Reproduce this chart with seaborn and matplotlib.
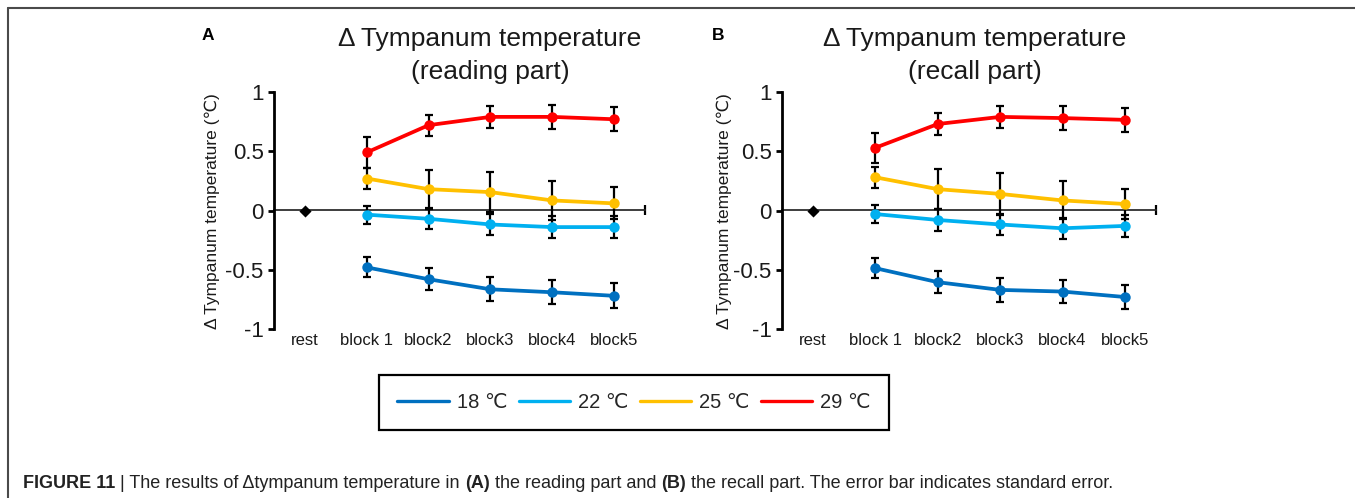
import numpy as np
import pandas as pd
import matplotlib
matplotlib.use("Agg")
import matplotlib.pyplot as plt
from matplotlib.lines import Line2D
import seaborn as sns

# ---------------- data ----------------
categories = ['rest', 'block 1', 'block2', 'block3', 'block4', 'block5']
temps = ['18 \u2103', '22 \u2103', '25 \u2103', '29 \u2103']
colors = ['#0070C0', '#00B0F0', '#FFC000', '#FF0000']
rest_value = [0.0]

# reading part (block 1..5)
read_18 = [-0.48, -0.58, -0.665, -0.69, -0.72]
read_22 = [-0.035, -0.07, -0.118, -0.14, -0.14]
read_25 = [0.27, 0.18, 0.155, 0.085, 0.06]
read_29 = [0.49, 0.72, 0.79, 0.79, 0.77]
read_18_se = [0.085, 0.095, 0.10, 0.10, 0.105]
read_22_se = [0.075, 0.09, 0.09, 0.09, 0.09]
read_25_se = [0.09, 0.165, 0.17, 0.165, 0.135]
read_29_se = [0.13, 0.09, 0.09, 0.10, 0.10]

# recall part (block 1..5)
recall_18 = [-0.487, -0.605, -0.67, -0.684, -0.73]
recall_22 = [-0.03, -0.08, -0.118, -0.15, -0.13]
recall_25 = [0.28, 0.18, 0.14, 0.085, 0.055]
recall_29 = [0.53, 0.73, 0.79, 0.78, 0.765]
recall_18_se = [0.085, 0.095, 0.10, 0.10, 0.105]
recall_22_se = [0.075, 0.09, 0.09, 0.09, 0.09]
recall_25_se = [0.09, 0.17, 0.175, 0.16, 0.13]
recall_29_se = [0.125, 0.09, 0.095, 0.10, 0.10]

panels = [
    dict(letter='A', title2='(reading part)',
         means=[read_18, read_22, read_25, read_29],
         ses=[read_18_se, read_22_se, read_25_se, read_29_se]),
    dict(letter='B', title2='(recall part)',
         means=[recall_18, recall_22, recall_25, recall_29],
         ses=[recall_18_se, recall_22_se, recall_25_se, recall_29_se]),
]

# ---------------- style ----------------
sns.set_theme(style='white')
plt.rcParams['font.family'] = ['Liberation Sans', 'DejaVu Sans']
plt.rcParams['axes.unicode_minus'] = False

W, H = 1355, 498
fig = plt.figure(figsize=(W / 100, H / 100), dpi=100)
fig.patch.set_facecolor('white')

def fx(px):
    return px / W

def fy(py):
    return 1 - py / H

axes_px = [(274, 645), (782, 1156)]
y_top, y_bot = 92, 329
title_cx = [490, 975]
letter_x = [208, 718]
ylabel_x = [212, 724]

block_pos = list(range(1, len(categories)))

for p, (x0, x1), tcx, lx, ylx in zip(panels, axes_px, title_cx, letter_x, ylabel_x):
    ax = fig.add_axes([fx(x0), fy(y_bot), fx(x1 - x0), (y_bot - y_top) / H])
    ax.set_facecolor('none')

    rows = []
    for t, m in zip(temps, p['means']):
        for pos, v in zip(block_pos, m):
            rows.append(dict(temp=t, pos=pos, val=v))
    df = pd.DataFrame(rows)

    # error bars (under the lines)
    for m, se in zip(p['means'], p['ses']):
        ax.errorbar(block_pos, m, yerr=se, fmt='none', ecolor='black',
                    elinewidth=1.6, capsize=3.2, capthick=1.6, zorder=1)

    sns.lineplot(data=df, x='pos', y='val', hue='temp', hue_order=temps,
                 palette=colors, marker='o', markersize=7.5, markeredgewidth=0,
                 linewidth=2.7, legend=False, sort=False, ax=ax, zorder=3)

    sns.scatterplot(x=[0], y=rest_value, marker='D', color='black', s=38,
                    linewidth=0, ax=ax, zorder=4)

    ax.set_xlim(-0.5, 5.5)
    ax.set_ylim(-1, 1)
    ax.set_xlabel('')
    ax.set_ylabel('')

    # spines
    for s in ['top', 'right', 'bottom']:
        ax.spines[s].set_visible(False)
    ax.spines['left'].set_linewidth(2.0)
    ax.spines['left'].set_color('black')

    ax.set_yticks([-1, -0.5, 0, 0.5, 1])
    ax.set_yticklabels(['-1', '-0.5', '0', '0.5', '1'])
    ax.set_yticks([-1, 1], minor=True)
    ax.tick_params(axis='y', which='major', direction='out', length=4.5,
                   width=2.0, color='black', labelsize=16, pad=3, left=True,
                   labelcolor='#1a1a1a')
    ax.tick_params(axis='y', which='minor', direction='inout', length=8.5,
                   width=2.0, color='black', left=True)

    ax.set_xticks(range(len(categories)))
    ax.set_xticklabels(categories)
    ax.tick_params(axis='x', which='both', length=0, labelsize=12, pad=3,
                   colors='#1a1a1a')

    # x axis line through zero
    sec = ax.secondary_xaxis(0.5)
    sec.spines['bottom'].set_linewidth(1.6)
    sec.spines['bottom'].set_color('black')
    sec.set_xticks([5.5])
    sec.set_xticklabels([''])
    sec.tick_params(axis='x', direction='inout', length=7, width=1.6,
                    color='black')

    fig.text(fx(tcx), fy(39), '\u0394 Tympanum temperature', ha='center',
             va='center', fontsize=19, color='#1a1a1a')
    fig.text(fx(tcx), fy(72), p['title2'], ha='center', va='center',
             fontsize=19, color='#1a1a1a')
    fig.text(fx(lx), fy(35), p['letter'], ha='center', va='center',
             fontsize=12.5, fontweight='bold', color='black')
    fig.text(fx(ylx), fy(211), '\u0394 Tympanum temperature (\u2103)',
             rotation=90, ha='center', va='center', fontsize=12.5,
             color='#1a1a1a')

# legend
handles = [Line2D([0], [0], color=c, lw=2.4) for c in colors]
leg = fig.legend(handles, temps, loc='center',
                 bbox_to_anchor=(fx(634), fy(402.5)), ncol=4, fontsize=14.5,
                 frameon=True, fancybox=False, edgecolor='black',
                 framealpha=1, handlelength=2.55, handletextpad=0.4,
                 columnspacing=0.55, borderpad=0.9)
leg.get_frame().set_linewidth(1.6)

# frame lines
fig.add_artist(Line2D([fx(8), 1.0], [fy(8), fy(8)], transform=fig.transFigure,
                      color='#4a4a4a', lw=1.5))
fig.add_artist(Line2D([fx(8), fx(8)], [fy(8), 0.0], transform=fig.transFigure,
                      color='#4a4a4a', lw=1.5))

# caption
pieces = [("FIGURE 11", 'bold'),
          (" | The results of \u0394tympanum temperature in ", 'normal'),
          ("(A)", 'bold'),
          (" the reading part and ", 'normal'),
          ("(B)", 'bold'),
          (" the recall part. The error bar indicates standard error.", 'normal')]
renderer = fig.canvas.get_renderer()
xpos = 23
for s, w in pieces:
    t = fig.text(fx(xpos), fy(483), s, ha='left', va='center', fontsize=13,
                 fontweight=w, color='#222222')
    bb = t.get_window_extent(renderer)
    xpos = bb.x1

fig.savefig('out.png', dpi=100, facecolor='white')
